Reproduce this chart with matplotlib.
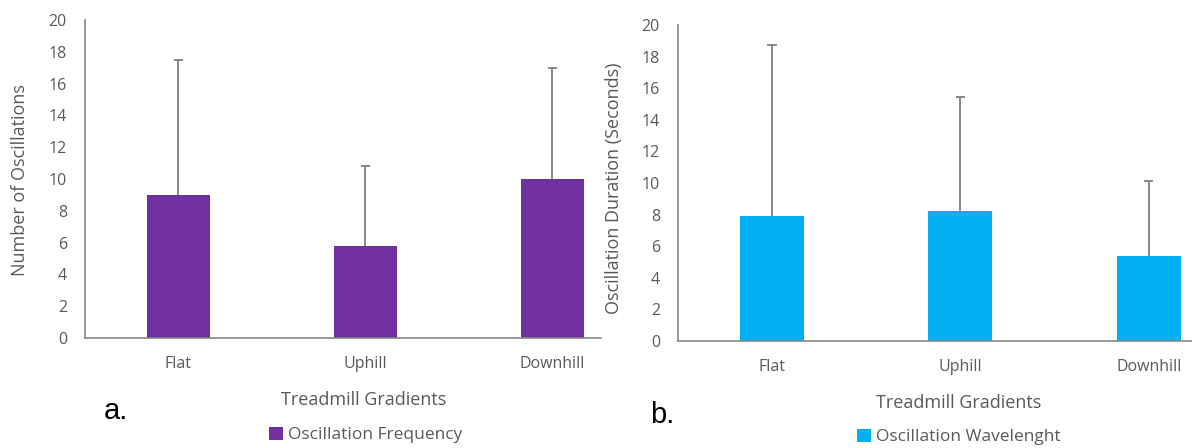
import matplotlib
matplotlib.use("Agg")
import matplotlib.pyplot as plt

categories = ["Flat", "Uphill", "Downhill"]
freq_means = [9.0, 5.8, 10.0]
freq_err = [8.5, 5.0, 7.0]
dur_means = [7.9, 8.25, 5.35]
dur_err = [10.85, 7.2, 4.75]
yticks = list(range(0, 21, 2))

W, H = 1192, 448
fig = plt.figure(figsize=(W / 100, H / 100), dpi=100)
plt.rcParams['font.family'] = ['Open Sans', 'DejaVu Sans']
GRAY = "#595959"
AX = "#868686"
ERR = "#7f7f7f"

def px(x0, y0top, x1, y1top):
    return [x0 / W, 1 - y1top / H, (x1 - x0) / W, (y1top - y0top) / H]

def panel(rect, xmax, means, errs, color, ylabel, ylab_x, ylab_y, xlab_xy, letter_xy, letter, leg_xy, legname):
    ax = fig.add_axes(rect)
    xs = list(range(len(categories)))
    bars = ax.bar(xs, means, width=0.34, color=color, label=legname, zorder=2)
    tops = [m + e for m, e in zip(means, errs)]
    ax.vlines(xs, means, tops, colors=ERR, linewidth=1.3, zorder=3)
    ax.hlines(tops, [x - 0.025 for x in xs], [x + 0.025 for x in xs], colors=ERR, linewidth=1.3, zorder=3)
    ax.set_xlim(-0.5, xmax)
    ax.set_ylim(0, 20)
    ax.set_yticks(yticks)
    ax.set_xticks(xs)
    ax.set_xticklabels(categories)
    for s in ["top", "right"]:
        ax.spines[s].set_visible(False)
    for s in ["left", "bottom"]:
        ax.spines[s].set_color(AX)
        ax.spines[s].set_linewidth(1.2)
    ax.tick_params(axis="both", length=0, colors=GRAY, labelsize=11.5)
    ax.tick_params(axis="y", pad=13)
    ax.tick_params(axis="x", pad=13)
    fig.text(ylab_x / W, 1 - ylab_y / H, ylabel, rotation=90, ha="center", va="center",
             color=GRAY, fontsize=13)
    fig.text(xlab_xy[0] / W, 1 - xlab_xy[1] / H, "Treadmill Gradients", ha="center", va="center",
             color=GRAY, fontsize=13)
    fig.text(letter_xy[0] / W, 1 - letter_xy[1] / H, letter, ha="left", va="center",
             color="black", fontsize=21, family=["Liberation Sans", "DejaVu Sans"])
    fig.legend(handles=[bars], labels=[legname], loc="center", bbox_to_anchor=(leg_xy[0] / W, 1 - leg_xy[1] / H),
               frameon=False, fontsize=12.5, labelcolor=GRAY, handlelength=0.8, handleheight=0.8,
               handletextpad=0.3, borderaxespad=0)
    return ax

panel(px(85, 20, 601, 338), 2.26, freq_means, freq_err, "#7030A0", "Number of Oscillations",
      20, 180, (364, 400), (104, 411), "a.", (366, 435), "Oscillation Frequency")
panel(px(678, 25, 1192, 341), 2.23, dur_means, dur_err, "#00B0F0", "Oscillation Duration (Seconds)",
      614, 188, (959, 403), (650, 415), "b.", (959, 437), "Oscillation Wavelenght")

fig.savefig("out.png", dpi=100, facecolor="white")
